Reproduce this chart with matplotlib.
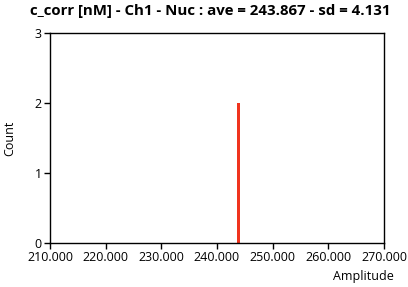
import matplotlib.pyplot as plt
from matplotlib.ticker import FormatStrFormatter

# histogram data
bin_left = [243.55]
bin_width = [0.6]
counts = [2]
x_ticks = [210, 220, 230, 240, 250, 260, 270]
y_ticks = [0, 1, 2, 3]

plt.rcParams['font.family'] = ['Open Sans', 'DejaVu Sans']

fig = plt.figure(figsize=(4.08, 2.87), dpi=100)
ax = fig.add_axes([50 / 408, 1 - 243 / 287, 334 / 408, 210 / 287])

ax.bar(bin_left, counts, width=bin_width, align='edge', color='#f0341e', linewidth=0)

ax.set_xlim(210, 270)
ax.set_ylim(0, 3)
ax.set_xticks(x_ticks)
ax.set_yticks(y_ticks)
ax.xaxis.set_major_formatter(FormatStrFormatter('%.3f'))
ax.tick_params(direction='out', length=4, width=1, labelsize=9, colors='black', pad=2)

for s in ax.spines.values():
    s.set_linewidth(1)
    s.set_color('black')

ax.set_ylabel('Count', fontsize=9)
ax.set_xlabel('Amplitude', fontsize=9)
ax.xaxis.set_label_coords(1.03, -0.13)
ax.xaxis.label.set_horizontalalignment('right')
ax.yaxis.set_label_coords(-0.1, 0.5)

fig.suptitle('c_corr [nM] - Ch1 - Nuc : ave = 243.867 - sd = 4.131',
             fontsize=10.8, fontweight='bold', x=0.515, y=0.985)

fig.savefig('out.png', dpi=100)
